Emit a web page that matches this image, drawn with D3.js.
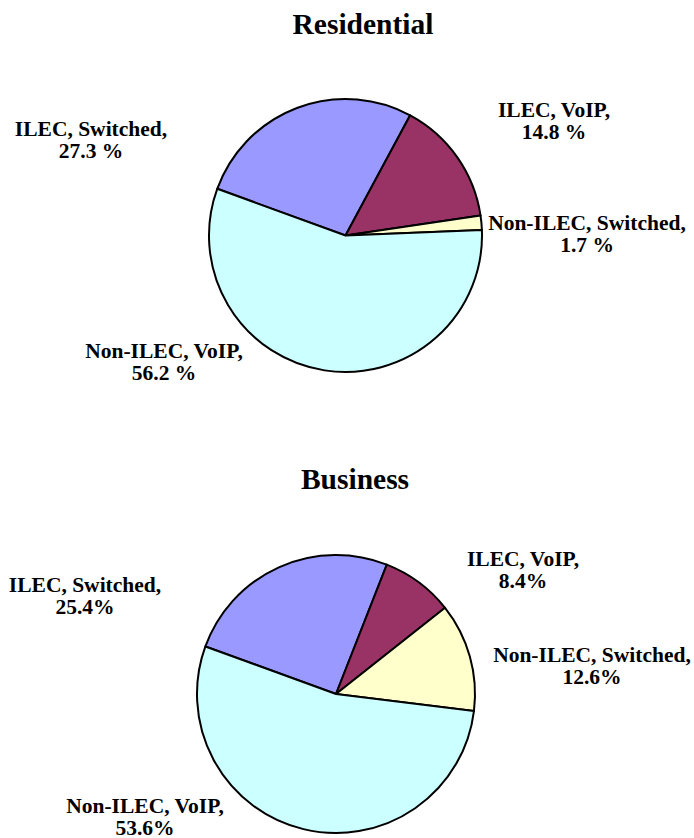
<!DOCTYPE html>
<html>
<head>
<meta charset="utf-8">
<script src="https://cdn.jsdelivr.net/npm/d3@7"></script>
<style>
  body { margin: 0; background: #fff; }
</style>
</head>
<body>
<div id="chart"></div>
<script>
// Chart data
const categories = ["ILEC, Switched", "ILEC, VoIP", "Non-ILEC, Switched", "Non-ILEC, VoIP"];
const residentialShares = [27.3, 14.8, 1.7, 56.2];
const businessShares = [25.4, 8.4, 12.6, 53.6];
const residentialLabels = ["27.3 %", "14.8 %", "1.7 %", "56.2 %"];
const businessLabels = ["25.4%", "8.4%", "12.6%", "53.6%"];

// Layout
const width = 694;
const height = 838;
const colors = ["#9999ff", "#993366", "#ffffcc", "#ccffff"];
const startDeg = -70;
const fontFam = "'Liberation Serif', 'Times New Roman', serif";

const svg = d3.select("#chart")
  .append("svg")
  .attr("width", width)
  .attr("height", height);

const color = d3.scaleOrdinal().domain(categories).range(colors);

// one pie panel: title, slices, and labels placed where the original put them
function drawPie(opts) {
  svg.append("text")
    .attr("x", opts.titleX)
    .attr("y", opts.titleY)
    .attr("text-anchor", "middle")
    .attr("font-family", fontFam)
    .attr("font-weight", "bold")
    .attr("font-size", "29.5px")
    .text(opts.title);

  const pie = d3.pie()
    .sort(null)
    .startAngle(startDeg * Math.PI / 180)
    .endAngle(startDeg * Math.PI / 180 + 2 * Math.PI);

  const arcs = pie(opts.values);
  const arc = d3.arc().innerRadius(0).outerRadius(opts.r);

  const g = svg.append("g")
    .attr("transform", `translate(${opts.cx},${opts.cy})`);

  g.selectAll("path")
    .data(arcs)
    .enter()
    .append("path")
      .attr("d", arc)
      .attr("fill", (d, i) => color(categories[i]))
      .attr("stroke", "#000")
      .attr("stroke-width", 2)
      .attr("stroke-linejoin", "round");

  const lbl = svg.append("g").selectAll("text")
    .data(opts.labelPos)
    .enter()
    .append("text")
      .attr("text-anchor", "middle")
      .attr("font-family", fontFam)
      .attr("font-weight", "bold")
      .attr("font-size", "21.5px")
      .attr("x", d => d[0])
      .attr("y", d => d[1]);

  lbl.append("tspan")
    .attr("x", d => d[0])
    .text((d, i) => categories[i] + ",");
  lbl.append("tspan")
    .attr("x", d => d[0])
    .attr("dy", 22)
    .text((d, i) => opts.labels[i]);
}

drawPie({
  title: "Residential", titleX: 363, titleY: 34,
  values: residentialShares, labels: residentialLabels,
  cx: 345.5, cy: 235.5, r: 136.5,
  labelPos: [[91, 136], [554, 117], [587, 229.5], [164, 358]]
});

drawPie({
  title: "Business", titleX: 355, titleY: 489,
  values: businessShares, labels: businessLabels,
  cx: 336, cy: 694, r: 139,
  labelPos: [[85, 592], [523, 566], [592, 662], [145, 812.5]]
});
</script>
</body>
</html>
